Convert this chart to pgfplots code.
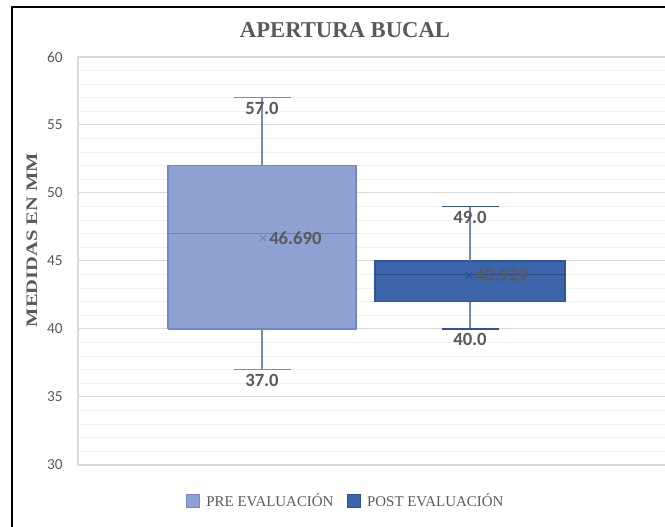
\documentclass[border=0pt]{standalone}
\usepackage{pgfplots}
\pgfplotsset{compat=1.18}
\usepackage{fontspec}
\setmainfont{Liberation Serif}
\newfontfamily\carlito{Carlito}
\definecolor{prefill}{HTML}{8FA2D4}
\definecolor{predraw}{HTML}{7387C3}
\definecolor{premed}{HTML}{6F82B8}
\definecolor{postfill}{HTML}{3B64AA}
\definecolor{postdraw}{HTML}{2F5597}
\definecolor{postmed}{HTML}{2A4A86}
\definecolor{txt}{HTML}{595959}
\definecolor{majgrid}{HTML}{D9D9D9}
\definecolor{mingrid}{HTML}{EFEFEF}
\begin{document}
\begin{tikzpicture}
\useasboundingbox (0pt,0pt) rectangle (498.75pt,395.25pt);
\clip (0pt,0pt) rectangle (498.75pt,395.25pt);
\draw[line width=1.1pt] (9pt,-5pt) -- (9pt,390pt) -- (520pt,390pt);
\node[font=\bfseries\fontsize{17}{17}\selectfont, text=txt] at (258.75pt,372.75pt) {APERTURA BUCAL};
\node[rotate=90, font=\bfseries\fontsize{12}{12}\selectfont, text=txt] at (24pt,215.25pt) {\scalebox{1.28}[1]{MEDIDAS EN MM}};
\begin{axis}[
  at={(58.5pt,46.5pt)}, anchor=south west,
  scale only axis, width=466.5pt, height=306pt,
  xmin=78, xmax=700, ymin=30, ymax=60,
  xtick=\empty,
  ytick={30,35,...,60},
  minor y tick num=4,
  grid=both,
  major grid style={majgrid, line width=0.75pt},
  minor grid style={mingrid, line width=0.75pt},
  major tick length=0pt, minor tick length=0pt,
  axis line style={majgrid, line width=1pt},
  yticklabel style={font=\carlito\fontsize{11.5}{12}\selectfont, text=txt, xshift=-8pt},
  /pgf/number format/assume math mode=true,
  legend style={at={(0.431,-0.088)}, anchor=center, draw=none, fill=none,
    font=\fontsize{11.2}{12}\selectfont, text=txt, legend columns=2,
    /tikz/every even column/.append style={column sep=8pt},
    /tikz/every odd column/.append style={column sep=3pt}},
]
% PRE EVALUACION box (Q1=40, median=47, Q3=52, whiskers 37-57)
\addplot[forget plot, fill=prefill, draw=predraw, line width=0.8pt]
  coordinates {(168,40) (356,40) (356,52) (168,52) (168,40)};
\addplot[forget plot, draw=premed, line width=0.8pt] coordinates {(168,47) (356,47)};
\addplot[forget plot, draw=predraw, line width=0.8pt] coordinates {(262,52) (262,57)};
\addplot[forget plot, draw=predraw, line width=0.8pt] coordinates {(262,37) (262,40)};
\addplot[forget plot, draw=predraw, line width=0.8pt] coordinates {(233.5,57) (290.5,57)};
\addplot[forget plot, draw=predraw, line width=0.8pt] coordinates {(233.5,37) (290.5,37)};
% POST EVALUACION box (Q1=42, median=44, Q3=45, whiskers 40-49)
\addplot[forget plot, fill=postfill, draw=postdraw, line width=0.8pt]
  coordinates {(375,42) (565,42) (565,45) (375,45) (375,42)};
\addplot[forget plot, draw=postmed, line width=0.8pt] coordinates {(375,44) (565,44)};
\addplot[forget plot, draw=predraw, line width=0.8pt] coordinates {(470,45) (470,49)};
\addplot[forget plot, draw=predraw, line width=0.8pt] coordinates {(470,40) (470,42)};
\addplot[forget plot, draw=postdraw, line width=0.8pt] coordinates {(441.5,49) (498.5,49)};
\addplot[forget plot, draw=postdraw, line width=0.8pt] coordinates {(441.5,40) (498.5,40)};
% means
\addplot[forget plot, only marks, mark=x, mark size=3.4pt, draw=premed, line width=0.7pt] coordinates {(263,46.690)};
\addplot[forget plot, only marks, mark=x, mark size=3.4pt, draw=postmed, line width=0.7pt] coordinates {(469,43.929)};
% labels
\addplot[forget plot, draw=none, mark=none,
  point meta=explicit symbolic, nodes near coords,
  nodes near coords style={anchor=north, font=\carlito\bfseries\fontsize{14}{14}\selectfont, text=txt}]
  coordinates {(262,57) [57.0] (262,37) [37.0] (470,49) [49.0] (470,40) [40.0]};
\addplot[forget plot, draw=none, mark=none,
  point meta=explicit symbolic, nodes near coords,
  nodes near coords style={anchor=west, font=\carlito\bfseries\fontsize{14}{14}\selectfont, text=txt, inner sep=3pt}]
  coordinates {(265,46.690) [46.690] (471,43.929) [43.929]};
\addlegendimage{legend image code/.code={\draw[fill=prefill,draw=predraw] (0pt,-4.9pt) rectangle (9.8pt,4.9pt);}}
\addlegendentry{PRE EVALUACIÓN}
\addlegendimage{legend image code/.code={\draw[fill=postfill,draw=postdraw] (0pt,-4.9pt) rectangle (9.8pt,4.9pt);}}
\addlegendentry{POST EVALUACIÓN}
\end{axis}
\end{tikzpicture}
\end{document}
